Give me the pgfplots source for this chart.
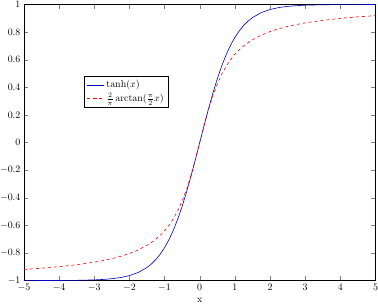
\documentclass[border={-3.3pt 0pt -3.3pt -2pt}]{standalone}
\usepackage{pgfplots}
\pgfplotsset{compat=1.18}
\begin{document}
\begin{tikzpicture}
\begin{axis}[
  scale only axis,
  width=354pt, height=278pt,
  xmin=-5, xmax=5, ymin=-1, ymax=1,
  xtick={-5,-4,...,5},
  ytick={-1,-0.8,-0.6,-0.4,-0.2,0,0.2,0.4,0.6,0.8,1},
  xlabel={x},
  legend style={at={(0.17,0.74)}, anchor=north west},
  legend cell align=left,
]
\addplot[blue!75!black, semithick] coordinates {
(-5,-0.999909) (-4.5,-0.999753) (-4,-0.999329) (-3.5,-0.998178) (-3,-0.995055)
(-2.75,-0.991815) (-2.5,-0.986614) (-2.25,-0.978026) (-2,-0.964028) (-1.75,-0.941376)
(-1.5,-0.905148) (-1.375,-0.879830) (-1.25,-0.848284) (-1.125,-0.809301) (-1,-0.761594)
(-0.875,-0.703910) (-0.75,-0.635149) (-0.625,-0.554600) (-0.5,-0.462117) (-0.375,-0.358357)
(-0.25,-0.244919) (-0.125,-0.124353) (0,0)
(0.125,0.124353) (0.25,0.244919) (0.375,0.358357) (0.5,0.462117) (0.625,0.554600)
(0.75,0.635149) (0.875,0.703910) (1,0.761594) (1.125,0.809301) (1.25,0.848284)
(1.375,0.879830) (1.5,0.905148) (1.75,0.941376) (2,0.964028) (2.25,0.978026)
(2.5,0.986614) (2.75,0.991815) (3,0.995055) (3.5,0.998178) (4,0.999329)
(4.5,0.999753) (5,0.999909)
};
\addlegendentry{$\tanh(x)$}
\addplot[red, semithick, dashed] coordinates {
(-5,-0.91938) (-4.5,-0.91053) (-4,-0.89952) (-3.5,-0.88545) (-3,-0.86688)
(-2.75,-0.85517) (-2.5,-0.84126) (-2.25,-0.82448) (-2,-0.80381) (-1.75,-0.77788)
(-1.5,-0.74447) (-1.375,-0.72395) (-1.25,-0.70011) (-1.125,-0.67216) (-1,-0.63909)
(-0.875,-0.59957) (-0.75,-0.55187) (-0.625,-0.49416) (-0.5,-0.42384) (-0.375,-0.33893)
(-0.25,-0.23821) (-0.125,-0.12344) (0,0)
(0.125,0.12344) (0.25,0.23821) (0.375,0.33893) (0.5,0.42384) (0.625,0.49416)
(0.75,0.55187) (0.875,0.59957) (1,0.63909) (1.125,0.67216) (1.25,0.70011)
(1.375,0.72395) (1.5,0.74447) (1.75,0.77788) (2,0.80381) (2.25,0.82448)
(2.5,0.84126) (2.75,0.85517) (3,0.86688) (3.5,0.88545) (4,0.89952)
(4.5,0.91053) (5,0.91938)
};
\addlegendentry{$\frac{2}{\pi}\arctan(\frac{\pi}{2}x)$}
\end{axis}
\end{tikzpicture}
\end{document}
